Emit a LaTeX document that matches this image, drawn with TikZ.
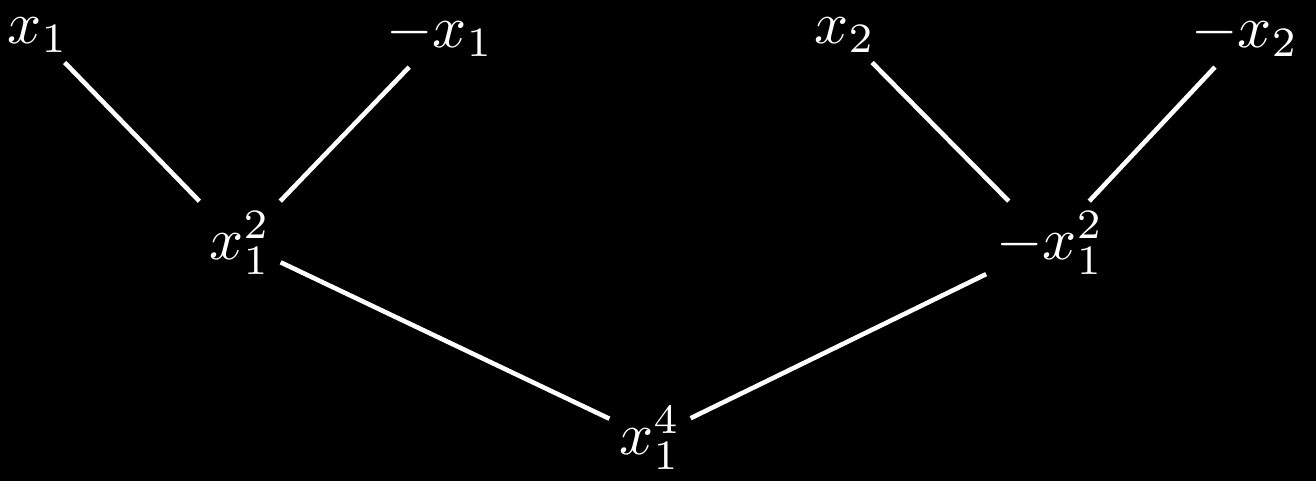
\documentclass[tikz,border=0pt]{standalone}
\begin{document}
\begin{tikzpicture}
\tikzstyle{every node}=[inner sep=1.5pt, text=white, scale=1.7]
\tikzstyle{edge}=[draw=white, line width=1.3pt]
\path[use as bounding box, fill=black] (0,0) rectangle (13.16,4.81);
\draw (0.38,4.46) node (v1) {$x_1$};
\draw (4.40,4.46) node (v2) {$-x_1$};
\draw (8.45,4.46) node (v3) {$x_2$};
\draw (12.45,4.46) node (v4) {$-x_2$};
\draw (2.40,2.38) node (v5) {$x_1^2$};
\draw (10.50,2.38) node (v6) {$-x_1^2$};
\draw (6.50,0.43) node (v7) {$x_1^4$};
\draw[edge] (v1) -- (v5);
\draw[edge] (v2) -- (v5);
\draw[edge] (v3) -- (v6);
\draw[edge] (v4) -- (v6);
\draw[edge] (v5) -- (v7);
\draw[edge] (v6) -- (v7);
\end{tikzpicture}
\end{document}
